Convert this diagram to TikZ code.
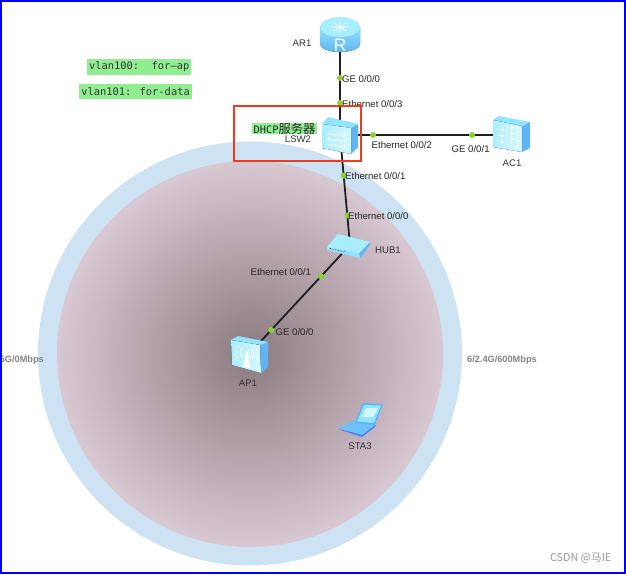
\documentclass[tikz,border=0pt]{standalone}
\usepackage{fontspec}
\setmainfont{Liberation Sans}
\newfontfamily\monof{DejaVu Sans Mono}
\newfontfamily\cjkf{Noto Sans CJK SC}
\definecolor{ring}{HTML}{CDE2F2}
\definecolor{gback}{HTML}{90EE90}
\definecolor{dotg}{HTML}{8CD235}
\definecolor{iconA}{HTML}{D5F8FF}
\definecolor{iconB}{HTML}{8FE4FF}
\definecolor{iconC}{HTML}{5FB4F5}
\definecolor{iconD}{HTML}{A9EEFF}
\definecolor{csdn}{HTML}{9A9A9A}
\tikzset{
  devbox/.style={inner sep=0pt,minimum width=#1,minimum height=#1},
  lbl/.style={font=\fontsize{9.6}{10}\selectfont,text=black!80,inner sep=0pt},
  portlbl/.style={font=\fontsize{9.6}{10}\selectfont,text=black!85,inner sep=0pt,anchor=west},
  vlan/.style={font=\monof\fontsize{10.4}{12}\selectfont,fill=gback,text=black!80,inner xsep=2pt,inner ysep=3pt,anchor=east},
  link/.style={draw=black!88,line width=1.8pt},
  port/.style={circle,fill=dotg,inner sep=0pt,minimum size=6pt},
  rate/.style={font=\bfseries\fontsize{9.2}{10}\selectfont,text=black!48,inner sep=0pt},
  wht/.style={draw=white,line width=.9pt,line cap=round,line join=round}
}
\begin{document}
\begin{tikzpicture}[x=1pt,y=-1pt]
\useasboundingbox (0,0) rectangle (626,574);
\fill[white] (0,0) rectangle (626,574);
% rings
\fill[ring] (250,353.5) circle[radius=212];
\begin{scope}
\clip (250,354) circle[radius=193];
\shade[shading=radial,inner color={rgb,255:red,140;green,122;blue,128},middle color={rgb,255:red,198;green,180;blue,188},outer color={rgb,255:red,219;green,203;blue,213}] (50,154) rectangle (450,554);
\end{scope}
% named devices (anchors for connectors)
\node[devbox=36pt] (ar) at (340,35) {};
\node[devbox=36pt] (lsw) at (340,135) {};
\node[devbox=36pt] (ac) at (511,135) {};
\node[minimum width=42pt,minimum height=22pt,inner sep=0pt] (hub) at (350,245) {};
\node[devbox=36pt] (ap) at (249,354) {};
\node[devbox=36pt] (sta) at (361,418) {};
% connectors
\draw[link] (ar.center) -- node[port,pos=.43]{} node[port,pos=.68]{} (lsw.center);
\draw[link] (lsw.center) -- node[port,pos=.193]{} node[port,pos=.772]{} (ac.center);
\draw[link] (lsw.center) -- node[port,pos=.37]{} node[port,pos=.73]{} (hub.center);
\draw[link] (hub.center) -- node[port,pos=.287]{} node[port,pos=.78]{} (ap.center);
% AR1 router
\begin{scope}[shift={(ar.center)}]
\fill[bottom color=iconC,top color=iconB] (-20,-8) -- (-20,9) arc[start angle=180,end angle=0,x radius=20,y radius=8] -- (20,-8) -- cycle;
\fill[iconD] (0,-8) ellipse[x radius=20,y radius=10];
\draw[wht,line width=.7pt] (-9,-8) -- (9,-8) (0,-14) -- (0,-2) (-6,-12)--(6,-4) (6,-12)--(-6,-4);
\node[text=white,font=\fontsize{18}{18}\selectfont,inner sep=0pt] (argl) at (0,10) {R};
\end{scope}
% LSW2 switch
\begin{scope}[shift={(lsw.center)}]
\fill[iconC] (11,-7) -- (18,-11) -- (18,12) -- (11,19) -- cycle;
\fill[iconB] (-18,-11) -- (-12,-18) -- (18,-11) -- (11,-7) -- cycle;
\fill[left color=iconD,right color=iconA] (-18,-11) -- (11,-7) -- (11,19) -- (-18,13) -- cycle;
\draw[wht,->] (-13,-1) -- (6,0);
\draw[wht,<-] (-13,4) -- (6,6);
\draw[wht,->] (-13,9) -- (6,13);
\end{scope}
% AC1
\begin{scope}[shift={(ac.center)}]
\fill[iconC] (11,-9) -- (19,-13) -- (19,13) -- (11,17) -- cycle;
\fill[iconB] (-18,-15) -- (-12,-19) -- (19,-13) -- (11,-9) -- cycle;
\fill[left color=iconD,right color=iconA] (-18,-15) -- (11,-9) -- (11,17) -- (-18,12) -- cycle;
\draw[wht,->] (-14,-6) -- (-7,-5);
\draw[wht,->] (-14,0) -- (-7,1);
\draw[wht,->] (-14,6) -- (-7,7);
\draw[wht] (-4,-9) -- (-4,11) (0,-8) -- (7,-7) -- (7,12) -- (0,11) -- cycle (0,-2) -- (7,-1) (0,4) -- (7,5);
\end{scope}
% HUB1
\begin{scope}[shift={(hub.center)}]
\fill[iconC] (9,8) -- (20,-3) -- (20,0) -- (10,13) -- cycle;
\fill[iconB] (-23,2) -- (9,8) -- (10,13) -- (-23,5) -- cycle;
\fill[iconD] (-23,2) -- (-12,-11) -- (20,-3) -- (9,8) -- cycle;
\draw[blue!70!black,line width=.8pt,dotted] (-20,3.5) -- (-5,7);
\end{scope}
% AP1
\begin{scope}[shift={(ap.center)}]
\fill[iconC] (11,-9) -- (19,-12) -- (19,13) -- (12,19) -- cycle;
\fill[iconB] (-18,-14) -- (-11,-18) -- (19,-12) -- (11,-9) -- cycle;
\fill[left color=iconD,right color=iconA] (-18,-14) -- (11,-9) -- (12,19) -- (-17,11) -- cycle;
\fill[white] (-6,13) -- (-3,-3) -- (-1,-3) -- (1,14) -- cycle;
\draw[wht] (-7,-6) .. controls (-9,-3) and (-9,0) .. (-7,3);
\draw[wht] (-11,-8) .. controls (-14,-3) and (-14,1) .. (-11,5);
\draw[wht] (3,-5) .. controls (5,-2) and (5,1) .. (3,4);
\draw[wht] (7,-6) .. controls (10,-2) and (10,3) .. (7,7);
\end{scope}
% STA3
\begin{scope}[shift={(sta.center)}]
\fill[blue!30!iconC] (-23,11) -- (1,19) -- (15,8) -- (14,7) -- (1,16) -- cycle;
\fill[iconC!70!iconB] (-23,10) -- (-6,2) -- (14,7) -- (1,17) -- cycle;
\fill[iconC] (2,-15) -- (22,-14) -- (14,7) -- (-6,5) -- cycle;
\fill[iconB] (3,-13) -- (20,-12.5) -- (13,5) -- (-4,3.5) -- cycle;
\fill[iconA] (5,-10) -- (17,-10) -- (12,-1) -- (1,-1) -- cycle;
\end{scope}
% labels
\node[lbl] (arl) at (302,43) {AR1};
\node[lbl] (lswl) at (298,139) {LSW2};
\node[lbl] (acl) at (512,163) {AC1};
\node[lbl] (hubl) at (388,250) {HUB1};
\node[lbl] (apl) at (248,383) {AP1};
\node[lbl] (stal) at (360,446) {STA3};
\node[portlbl] (p1) at (342,79) {GE 0/0/0};
\node[portlbl] (p2) at (342,104) {Ethernet 0/0/3};
\node[portlbl] (p3) at (371.5,145) {Ethernet 0/0/2};
\node[portlbl] (p4) at (451.5,149) {GE 0/0/1};
\node[portlbl] (p5) at (345,176.5) {Ethernet 0/0/1};
\node[portlbl] (p6) at (348,216) {Ethernet 0/0/0};
\node[portlbl] (p7) at (250.5,272) {Ethernet 0/0/1};
\node[portlbl] (p8) at (275.5,332) {GE 0/0/0};
% rates
\node[rate,anchor=east] (r1) at (44,360) {5G/0Mbps};
\node[rate,anchor=west] (r2) at (467,360) {6/2.4G/600Mbps};
% vlan and DHCP
\node[vlan] (v1) at (191.5,67) {vlan100:\ \ for{\char"2013}ap};
\node[vlan] (v2) at (192,91.5) {vlan101: for-data};
\node[fill=gback,text=black!85,inner xsep=1.5pt,inner ysep=0pt,anchor=west] (dh) at (252,128.5) {\monof\fontsize{10.3}{12}\selectfont DHCP\cjkf\fontsize{12.3}{12}\selectfont 服务器};
\draw[draw={rgb,255:red,240;green,58;blue,28},line width=2pt] (234,106) rectangle (361,161);
% watermark
\node[font=\cjkf\fontsize{10.8}{11}\selectfont,text=csdn,inner sep=0pt,anchor=east] (wm) at (611.5,558.5) {CSDN @马IE};
% frame
\draw[blue,line width=2pt] (1,1) rectangle (624.5,573);
\end{tikzpicture}
\end{document}
